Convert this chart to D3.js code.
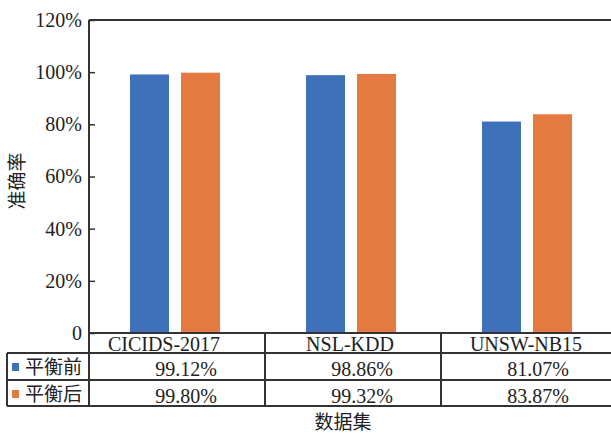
<!DOCTYPE html>
<html>
<head>
<meta charset="utf-8">
<script src="https://cdn.jsdelivr.net/npm/d3@7"></script>
<style>
  body { margin: 0; background: #fff; }
  text { font-family: "Liberation Serif", "Times New Roman", serif; }
  .cjk { font-family: "Noto Sans CJK SC", sans-serif; }
</style>
</head>
<body>
<div id="chart"></div>
<script>
var datasets = ["CICIDS-2017", "NSL-KDD", "UNSW-NB15"];
var seriesNames = ["平衡前", "平衡后"];
var beforeVals = [0.9912, 0.9886, 0.8107];
var afterVals = [0.9980, 0.9932, 0.8387];
var yTicks = [0, 0.2, 0.4, 0.6, 0.8, 1.0, 1.2];
var colors = ["#3F71BA", "#E57942"];

var width = 611, height = 435;
var plotLeft = 89, plotRight = 617, plotTop = 20, plotBottom = 333;
var rowH = [20, 27, 26];

var svg = d3.select("#chart").append("svg")
  .attr("width", width)
  .attr("height", height);

var x0 = d3.scaleBand().domain(datasets).range([plotLeft, plotRight]);
var x1 = d3.scaleBand().domain(seriesNames).range([41, 131]).paddingInner(12 / 51);
var y = d3.scaleLinear().domain([0, 1.2]).range([plotBottom, plotTop]);

var allVals = [beforeVals, afterVals];

// bars
seriesNames.forEach(function(s, si) {
  svg.append("g").selectAll("rect")
    .data(datasets)
    .enter().append("rect")
    .attr("x", function(d) { return x0(d) + x1(s); })
    .attr("width", x1.bandwidth())
    .attr("y", function(d, i) { return y(allVals[si][i]); })
    .attr("height", function(d, i) { return plotBottom - y(allVals[si][i]); })
    .attr("fill", colors[si]);
});

// y axis
var yAxis = d3.axisLeft(y)
  .tickValues(yTicks)
  .tickSize(-6)
  .tickPadding(7)
  .tickFormat(function(d) { return d === 0 ? "0" : d3.format(".0%")(d); });
var gy = svg.append("g").attr("transform", "translate(" + plotLeft + ",0)").call(yAxis);
gy.select(".domain").remove();
gy.selectAll(".tick line").attr("stroke", "#333").attr("stroke-width", 1.5);
gy.selectAll(".tick text")
  .attr("fill", "#222")
  .style("font-family", "'Liberation Serif', serif")
  .style("font-size", "20px");

var lineColor = "#333";
function hline(xa, xb, yy) {
  svg.append("line").attr("x1", xa).attr("x2", xb).attr("y1", yy).attr("y2", yy)
    .attr("stroke", lineColor).attr("stroke-width", 2);
}
function vline(xx, ya, yb) {
  svg.append("line").attr("x1", xx).attr("x2", xx).attr("y1", ya).attr("y2", yb)
    .attr("stroke", lineColor).attr("stroke-width", 2);
}

// frame and table grid
var r1 = plotBottom + rowH[0], r2 = r1 + rowH[1], r3 = r2 + rowH[2];
hline(plotLeft, width, plotTop);
vline(plotLeft, plotTop, r3);
hline(plotLeft, width, plotBottom);
hline(7, width, r1);
hline(7, width, r2);
hline(7, width, r3);
vline(7, r1, r3);
datasets.forEach(function(d, i) {
  if (i > 0) vline(x0(d), plotBottom, r3);
});

// table text
svg.append("g").selectAll("text")
  .data(datasets)
  .enter().append("text")
  .attr("x", function(d, i) { return x0(d) + x0.bandwidth() / 2 + (i === 0 ? -13 : -3); })
  .attr("y", plotBottom + 18)
  .attr("text-anchor", "middle")
  .attr("fill", "#222")
  .style("font-size", "20px")
  .text(function(d) { return d; });

allVals.forEach(function(vals, si) {
  var rowY = si === 0 ? r1 : r2;
  svg.append("g").selectAll("text")
    .data(vals)
    .enter().append("text")
    .attr("x", function(d, i) { return x0(datasets[i]) + x0.bandwidth() / 2 + 9; })
    .attr("y", rowY + 23)
    .attr("text-anchor", "middle")
    .attr("fill", "#222")
    .style("font-size", "20px")
    .text(function(d) { return d3.format(".2%")(d); });

  svg.append("rect")
    .attr("x", 12).attr("y", rowY + 10)
    .attr("width", 7).attr("height", 8)
    .attr("fill", colors[si]);
  svg.append("text")
    .attr("class", "cjk")
    .attr("x", 25).attr("y", rowY + 21)
    .attr("fill", "#222")
    .style("font-size", "19px")
    .text(seriesNames[si]);
});

// axis titles
svg.append("text")
  .attr("class", "cjk")
  .attr("transform", "translate(24,181) rotate(-90)")
  .attr("text-anchor", "middle")
  .attr("fill", "#222")
  .style("font-size", "19px")
  .text("准确率");

svg.append("text")
  .attr("class", "cjk")
  .attr("x", 343).attr("y", 429)
  .attr("text-anchor", "middle")
  .attr("fill", "#222")
  .style("font-size", "19px")
  .text("数据集");
</script>
</body>
</html>
